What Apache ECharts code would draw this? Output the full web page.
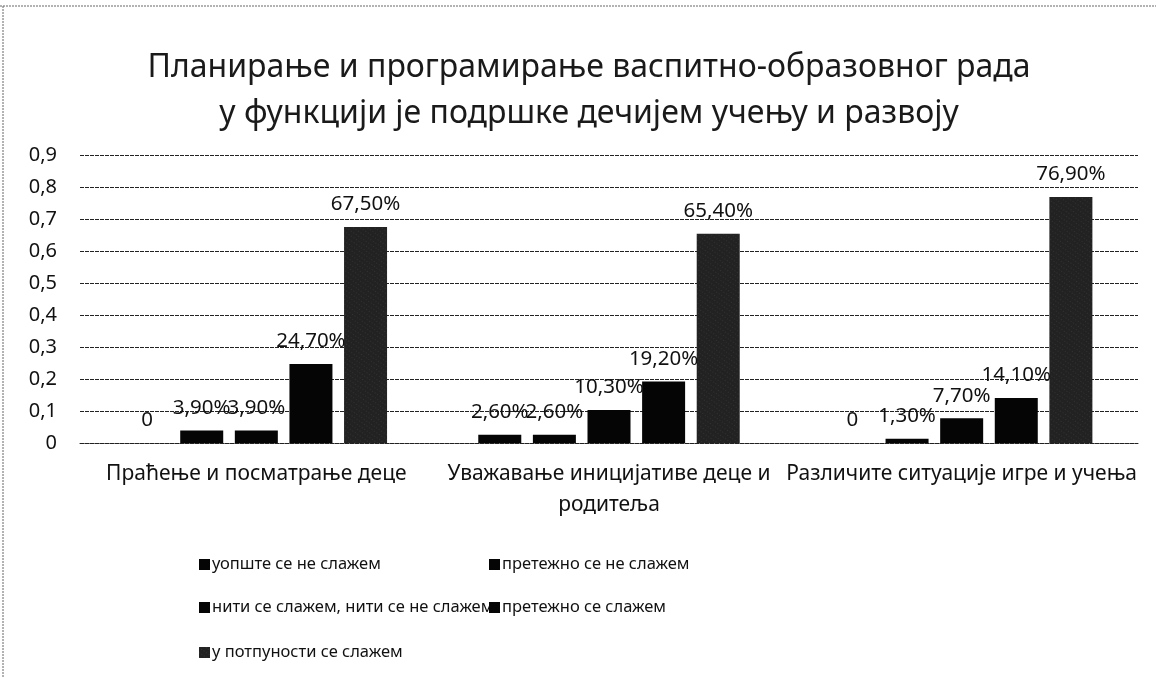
<!DOCTYPE html>
<html>
<head>
<meta charset="utf-8">
<script src="https://cdn.jsdelivr.net/npm/echarts@6/dist/echarts.min.js"></script>
<style>
html,body{margin:0;padding:0;background:#fff;}
#chart{width:1156px;height:677px;}
</style>
</head>
<body>
<div id="chart"></div>
<script>
const titleText = 'Планирање и програмирање васпитно-образовног рада\nу функцији је подршке дечијем учењу и развоју';
const categories = ['Праћење и посматрање деце', 'Уважавање иницијативе деце и родитеља', 'Различите ситуације игре и учења'];
const seriesNames = ['уопште се не слажем', 'претежно се не слажем', 'нити се слажем, нити се не слажем', 'претежно се слажем', 'у потпуности се слажем'];
const s1 = [0, 0.026, 0];
const s2 = [0.039, 0.026, 0.013];
const s3 = [0.039, 0.103, 0.077];
const s4 = [0.247, 0.192, 0.141];
const s5 = [0.675, 0.654, 0.769];
const yTicks = { min: 0, max: 0.9, interval: 0.1 };

const FONT = '"Noto Sans", "DejaVu Sans", sans-serif';
const AX_FS = 21;
const chart = echarts.init(document.getElementById('chart'));

// word wrap helper for category labels
const ctx = document.createElement('canvas').getContext('2d');
function wrap(text, maxW, fs) {
  ctx.font = fs + 'px ' + FONT;
  const words = text.split(' ');
  const lines = [];
  let cur = '';
  words.forEach(w => {
    const t = cur ? cur + ' ' + w : w;
    if (ctx.measureText(t).width > maxW && cur) { lines.push(cur); cur = w; }
    else cur = t;
  });
  if (cur) lines.push(cur);
  return lines.join('\n');
}

const labelFmt = p => p.value === 0 ? '0' : (p.value * 100).toFixed(2).replace('.', ',') + '%';
const solid = { color: '#050505' };
const pattern = {
  color: '#222222',
  decal: {
    symbol: 'rect',
    symbolSize: 0.5,
    color: 'rgba(255,255,255,0.3)',
    dashArrayX: [1, 2],
    dashArrayY: [1, 3],
    rotation: 0.6
  }
};
const allData = [s1, s2, s3, s4, s5];
const series = allData.map((d, i) => ({
  name: seriesNames[i],
  type: 'bar',
  data: d,
  barWidth: 43,
  barGap: '27%',
  itemStyle: i === 4 ? pattern : solid,
  label: {
    show: true,
    position: 'top',
    distance: 12,
    formatter: labelFmt,
    fontFamily: FONT,
    fontSize: 20.5,
    color: '#111'
  }
}));

const legendPos = [
  { left: 199, top: 556 },
  { left: 489, top: 556 },
  { left: 199, top: 599 },
  { left: 489, top: 599 },
  { left: 199, top: 644 }
];
const legends = seriesNames.map((n, i) => ({
  data: [n],
  left: legendPos[i].left,
  top: legendPos[i].top,
  padding: 0,
  icon: 'rect',
  itemWidth: 11,
  itemHeight: 11,
  itemGap: 4,
  textStyle: { fontFamily: FONT, fontSize: 16.5, color: '#111', padding: [0, 0, 0, -3] }
}));

chart.setOption({
  backgroundColor: '#fff',
  animation: false,
  title: {
    text: titleText,
    left: 584,
    textAlign: 'center',
    top: 40,
    textStyle: { fontFamily: FONT, fontSize: 32, fontWeight: 'normal', color: '#1a1a1a', lineHeight: 46 }
  },
  legend: legends,
  grid: { left: 80, right: 18, top: 155, bottom: 234 },
  xAxis: {
    type: 'category',
    data: categories,
    axisLine: { show: true, lineStyle: { color: '#222', type: [4, 1] } },
    axisTick: { show: false },
    axisLabel: {
      fontFamily: FONT, fontSize: AX_FS, color: '#111', margin: 16,
      lineHeight: 31, interval: 0,
      formatter: v => wrap(v, 365, AX_FS)
    }
  },
  yAxis: {
    type: 'value',
    min: yTicks.min, max: yTicks.max, interval: yTicks.interval,
    axisLine: { show: false },
    axisTick: { show: false },
    axisLabel: {
      fontFamily: FONT, fontSize: 20, color: '#111', margin: 23,
      formatter: v => v === 0 ? '0' : v.toFixed(1).replace('.', ',')
    },
    splitLine: { lineStyle: { color: '#222', width: 1, type: [4, 1] } }
  },
  graphic: [
    { type: 'line', shape: { x1: 0, y1: 6, x2: 1156, y2: 6 }, style: { stroke: '#666', lineWidth: 1, lineDash: [2, 1] } },
    { type: 'line', shape: { x1: 3, y1: 6, x2: 3, y2: 677 }, style: { stroke: '#666', lineWidth: 1, lineDash: [2, 1] } }
  ],
  series: series
});
</script>
</body>
</html>
